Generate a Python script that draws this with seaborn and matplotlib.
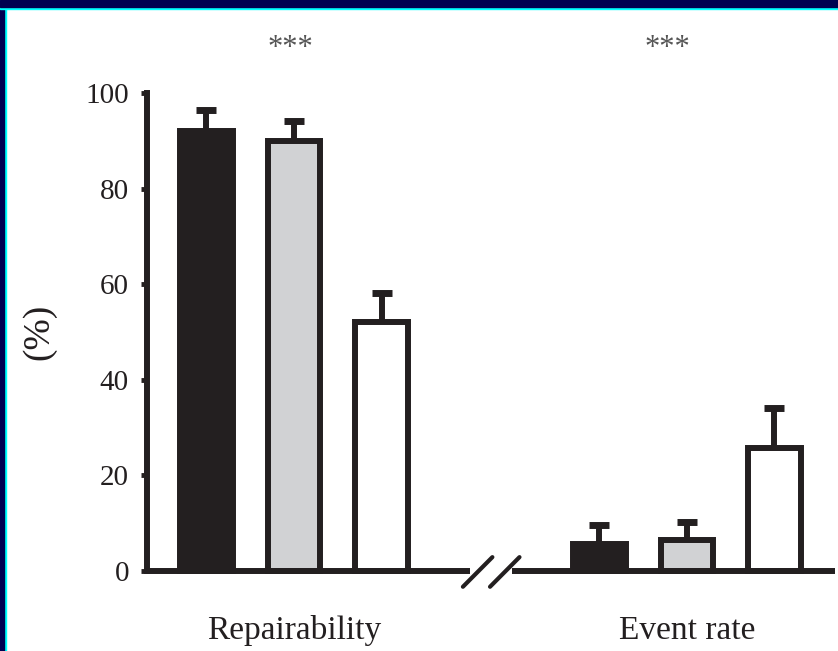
import numpy as np
import pandas as pd
import seaborn as sns
import matplotlib
matplotlib.use("Agg")
import matplotlib.pyplot as plt
from matplotlib.patches import Rectangle
from matplotlib import transforms

# values
measures = ["Repairability", "Event rate"]
groups = ["Group 1", "Group 2", "Group 3"]
repair_mean = [92.0, 90.0, 52.0]
repair_err = [4.4, 4.1, 6.2]
event_mean = [5.6, 6.5, 25.7]
event_err = [4.0, 3.8, 8.4]
star_labels = ["***", "***"]
star_x = [-0.01, 0.95]

bar_colors = ["#231f20", "#d1d2d4", "#ffffff"]
ink = "#231f20"

rows = []
for i, g in enumerate(groups):
    rows.append({"measure": measures[0], "group": g, "value": repair_mean[i], "err": repair_err[i]})
    rows.append({"measure": measures[1], "group": g, "value": event_mean[i], "err": event_err[i]})
df = pd.DataFrame(rows)

sns.set_style("ticks")
plt.rcParams["font.family"] = ["Liberation Serif", "DejaVu Serif"]

fig = plt.figure(figsize=(8.38, 6.51), dpi=100)
W, H = 838, 651
ax = fig.add_axes([147 / W, (H - 571) / H, (835 - 147) / W, (571 - 93) / H])

sns.barplot(data=df, x="measure", y="value", hue="group", order=measures,
            hue_order=groups, palette=bar_colors, width=0.669, gap=0.4,
            edgecolor=ink, linewidth=4.3, errorbar=None, legend=False,
            saturation=1, ax=ax)

# upward-only error bars on top of each bar
xs, ys, es = [], [], []
for p, (_, r) in zip(ax.patches, df.iterrows()):
    p.set_clip_on(False)
    xs.append(p.get_x() + p.get_width() / 2)
    ys.append(p.get_height())
    es.append(r["err"])
eb = ax.errorbar(xs, ys, yerr=[np.zeros(len(es)), es], fmt="none", ecolor=ink,
                 elinewidth=4.3, capsize=7.5, capthick=5, zorder=5)
eb[1][0].set_visible(False)

ax.set_ylim(0, 100)
ax.set_xlim(-0.374, 1.377)
ax.set_yticks(range(0, 101, 20))
ax.set_xlabel("")
ax.set_ylabel("(%)", fontsize=27, color=ink, labelpad=21)

for s in ["top", "right", "bottom"]:
    ax.spines[s].set_visible(False)
ax.spines["left"].set_linewidth(4.3)
ax.spines["left"].set_color(ink)
ax.spines["left"].set_bounds(0, 100)

ax.tick_params(axis="y", length=4, width=3.5, pad=9, labelsize=21,
               color=ink, labelcolor=ink)
ax.tick_params(axis="x", length=0, pad=32, labelsize=24, labelcolor=ink)

# broken x axis line
tr = transforms.blended_transform_factory(ax.transData, ax.transAxes)
ax.plot([-0.374, 0.448], [0, 0], transform=tr, color=ink, lw=4.3,
        clip_on=False, solid_capstyle="butt")
ax.plot([0.555, 1.377], [0, 0], transform=tr, color=ink, lw=4.3,
        clip_on=False, solid_capstyle="butt")
for x0 in [0.430, 0.499]:
    ax.plot([x0, x0 + 0.075], [-3.3, 2.9], color=ink, lw=3, clip_on=False)

for x, lab in zip(star_x, star_labels):
    ax.text(x, 109.3, lab, ha="center", va="center", fontsize=22,
            color="#555555", clip_on=False)

# slide frame
fig.add_artist(Rectangle((0, 0), 6 / W, 1, transform=fig.transFigure,
                         color="#00ffff", zorder=0))
fig.add_artist(Rectangle((0, 0), 4 / W, 1, transform=fig.transFigure,
                         color="#000050", zorder=0))
fig.add_artist(Rectangle((0, 1 - 9 / H), 1, 9 / H, transform=fig.transFigure,
                         color="#00ffff", zorder=0))
fig.add_artist(Rectangle((0, 1 - 7 / H), 1, 7 / H, transform=fig.transFigure,
                         color="#000050", zorder=0))

fig.savefig("out.png", dpi=100)
